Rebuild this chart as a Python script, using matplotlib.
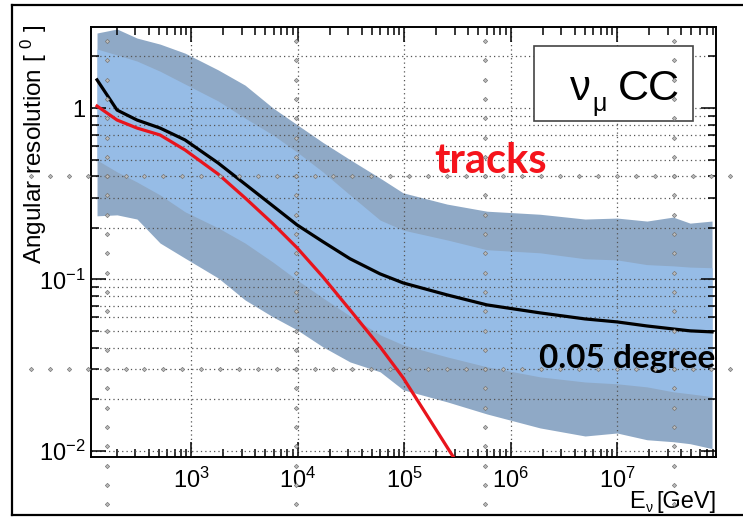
import numpy as np
import matplotlib
matplotlib.use('Agg')
import matplotlib.pyplot as plt
from matplotlib.ticker import LogLocator, FuncFormatter
from matplotlib.lines import Line2D

# values (energy in GeV, resolution in degrees)
energy = [131, 202, 311, 512, 879, 1795, 3215, 5890, 9890, 1.73e4, 3.11e4,
          5.96e4, 9.8e4, 2.54e5, 6.01e5, 1.89e6, 5.01e6, 1.0e7, 1.91e7,
          3.36e7, 4.85e7, 7.8e7]
outer_hi = [2.74, 2.89, 2.56, 2.36, 2.09, 1.67, 1.36, 1.00, 0.80, 0.63, 0.50,
            0.39, 0.32, 0.275, 0.25, 0.24, 0.225, 0.228, 0.219, 0.231, 0.213, 0.219]
inner_hi = [2.21, 2.04, 1.88, 1.64, 1.38, 1.10, 0.874, 0.696, 0.554, 0.424, 0.311,
            0.222, 0.194, 0.170, 0.149, 0.143, 0.132, 0.130, 0.122, 0.120, 0.118, 0.117]
inner_lo = [0.497, 0.424, 0.370, 0.311, 0.248, 0.200, 0.163, 0.126, 0.0993, 0.0780,
            0.0612, 0.0475, 0.0415, 0.0353, 0.0309, 0.0270, 0.0252, 0.0246, 0.0236,
            0.0221, 0.0215, 0.0207]
outer_lo = [0.235, 0.238, 0.225, 0.163, 0.133, 0.102, 0.0759, 0.0604, 0.0508, 0.0404,
            0.0330, 0.0289, 0.0227, 0.0193, 0.0164, 0.0136, 0.0122, 0.0127, 0.0116,
            0.0113, 0.0110, 0.0103]
median = [1.46, 0.973, 0.851, 0.764, 0.651, 0.478, 0.360, 0.268, 0.208, 0.166, 0.132,
          0.1077, 0.0954, 0.0812, 0.0710, 0.0638, 0.0588, 0.0565, 0.0535, 0.0514,
          0.0501, 0.0494]

track_energy = [131, 202, 311, 512, 879, 1795, 3215, 5890, 9890, 1.73e4, 3.11e4,
                5.96e4, 9.8e4, 3.15e5]
tracks = [1.027, 0.851, 0.764, 0.696, 0.569, 0.412, 0.299, 0.211, 0.153, 0.1035,
          0.0664, 0.0404, 0.0267, 0.0085]

W, H = 743, 517

def fx(x):
    return x / W

def fy(y):
    return 1 - y / H

plt.rcParams['font.family'] = ['Liberation Sans', 'DejaVu Sans']
plt.rcParams['mathtext.fontset'] = 'custom'
plt.rcParams['mathtext.rm'] = 'Liberation Sans'
plt.rcParams['mathtext.it'] = 'Liberation Sans:italic'

fig = plt.figure(figsize=(W / 100, H / 100), dpi=100)
ax = fig.add_axes([fx(91), fy(457), (716 - 91) / W, (457 - 27) / H])

ax.fill_between(energy, outer_lo, outer_hi, color='#8fa9c6', lw=0, zorder=1)
ax.fill_between(energy, inner_lo, inner_hi, color='#96bce6', lw=0, zorder=1.1)
ax.plot(energy, median, color='black', lw=2.3, zorder=4, solid_joinstyle='round')
ax.plot(track_energy, tracks, color='#e8141c', lw=2.3, zorder=4,
        solid_joinstyle='round')

ax.set_xscale('log')
ax.set_yscale('log')
ax.set_xlim(115, 8.5e7)
ax.set_ylim(0.0092, 2.97)

for axis in (ax.xaxis, ax.yaxis):
    axis.set_major_locator(LogLocator(base=10, numticks=20))
    axis.set_minor_locator(LogLocator(base=10, subs=np.arange(2, 10), numticks=20))

def log_label(v, pos):
    e = int(round(np.log10(v)))
    return '1' if e == 0 else r'$10^{%d}$' % e

ax.xaxis.set_major_formatter(FuncFormatter(log_label))
ax.yaxis.set_major_formatter(FuncFormatter(log_label))

ax.set_axisbelow(False)
dots = (0, (1, 2.5))
ax.grid(True, which='major', axis='x', ls=dots, color='#555555', lw=0.9)
ax.grid(True, which='both', axis='y', ls=dots, color='#555555', lw=0.9)

ax.tick_params(which='both', direction='in', top=True, right=True, width=1.1,
               labelsize=17)
ax.tick_params(which='major', length=11)
ax.tick_params(which='minor', length=5.5)
ax.tick_params(axis='x', pad=8)
ax.tick_params(axis='y', pad=4)
for s in ax.spines.values():
    s.set_linewidth(1.4)

# axis titles
fig.text(fx(34), fy(144), r'Angular resolution [ $^{0}$ ]', rotation=90,
         ha='center', va='center', fontsize=17.5)
fig.text(fx(629), fy(508), 'E', ha='left', va='baseline', fontsize=17)
fig.text(fx(646), fy(512), 'ν', ha='left', va='baseline', fontsize=10)
fig.text(fx(716), fy(508), '[GeV]', ha='right', va='baseline', fontsize=17)

# label box
box = plt.Rectangle((fx(534), fy(121)), (693 - 534) / W, (121 - 46) / H,
                    transform=fig.transFigure, fc='white', ec='#444444',
                    lw=1.2, zorder=5)
fig.add_artist(box)
fig.text(fx(570), fy(100), 'ν', ha='left', va='baseline', fontsize=30, zorder=6)
fig.text(fx(592), fy(111), 'μ', ha='left', va='baseline', fontsize=18, zorder=6)
fig.text(fx(680), fy(100), 'CC', ha='right', va='baseline', fontsize=31, zorder=6)

fig.text(fx(434), fy(173), 'tracks', color='#f5141c', fontweight='bold',
         family='Lato', fontsize=30, ha='left', va='baseline')
fig.text(fx(539), fy(368), '0.05 degree', color='black', fontweight='bold',
         family='Lato', fontsize=24, ha='left', va='baseline')

# slide guide dots
col_y = 41 + 19.3 * np.arange(25)
for cx in [107, 296, 485, 674]:
    fig.add_artist(Line2D(fx(np.full(col_y.size, cx)), fy(col_y), ls='none',
                          marker='D', ms=2.2, mfc='#bbbbbb', mec='#777777',
                          mew=0.5, transform=fig.transFigure, zorder=7))
row_x = 31 + 18.9 * np.arange(38)
for ry in [176, 369]:
    fig.add_artist(Line2D(fx(row_x), fy(np.full(row_x.size, ry)), ls='none',
                          marker='D', ms=2.2, mfc='#bbbbbb', mec='#777777',
                          mew=0.5, transform=fig.transFigure, zorder=7))

# slide frame
for xs, ys in [([12, 743], [5, 5]), ([12, 12], [5, 515]), ([12, 743], [515, 515])]:
    fig.add_artist(Line2D(fx(np.array(xs)), fy(np.array(ys)), color='black',
                          lw=1.6, transform=fig.transFigure))

fig.savefig('out.png', dpi=100)
